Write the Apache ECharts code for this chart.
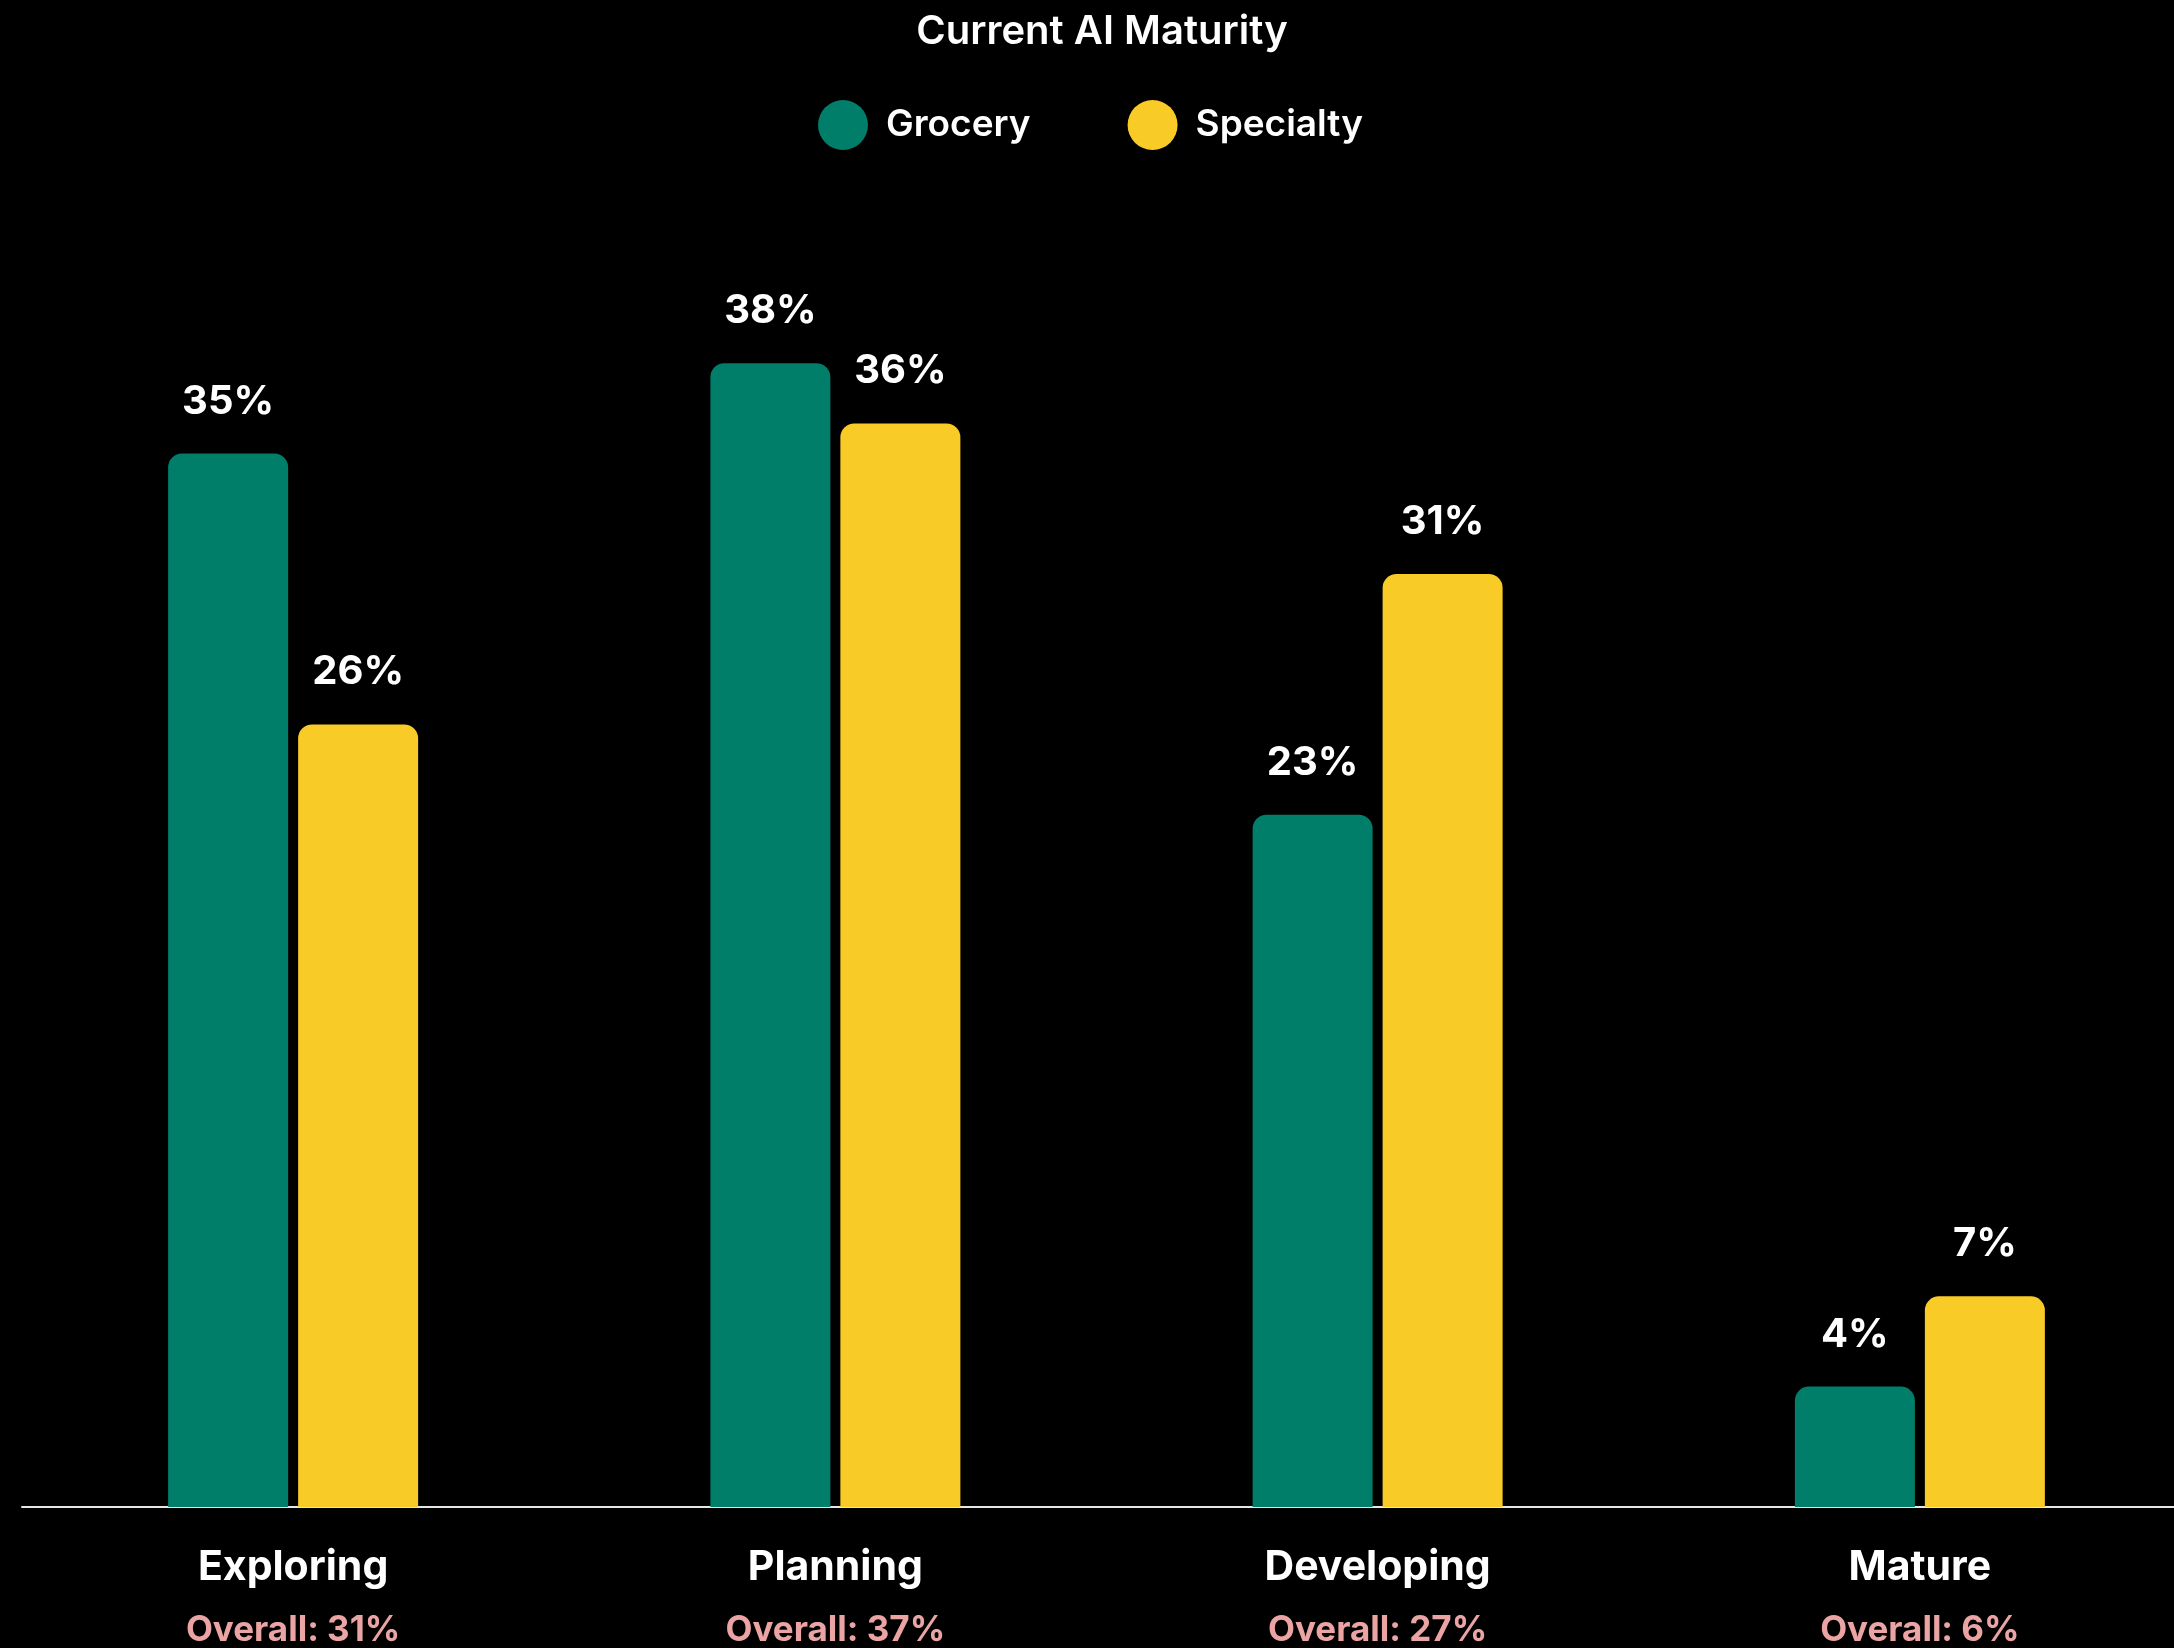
<!DOCTYPE html>
<html>
<head>
<meta charset="utf-8">
<title>Current AI Maturity</title>
<script src="https://cdn.jsdelivr.net/npm/echarts@6/dist/echarts.min.js"></script>
<style>
  html, body { margin: 0; padding: 0; background: #000; }
  #chart { width: 2174px; height: 1648px; }
</style>
</head>
<body>
<div id="chart"></div>
<script>
// Maturity stages and the share of each retailer group at that stage (%)
const stages = ['Exploring', 'Planning', 'Developing', 'Mature'];
const grocery = [35, 38, 23, 4];
const specialty = [26, 36, 31, 7];
const overall = [31, 37, 27, 6];

const FONT = 'Inter, "Noto Sans", sans-serif';
const TEAL = '#007E6A';
const YELLOW = '#F8CB27';

const valueLabel = {
  show: true,
  position: 'top',
  distance: 32,
  formatter: '{c}%',
  color: '#ffffff',
  fontFamily: FONT,
  fontWeight: 700,
  fontSize: 40
};

const chart = echarts.init(document.getElementById('chart'), null, { renderer: 'canvas' });

chart.setOption({
  backgroundColor: '#000000',
  animation: false,
  title: {
    text: 'Current AI Maturity',
    left: 1097,
    textAlign: 'center',
    top: 7,
    textStyle: { color: '#ffffff', fontFamily: FONT, fontWeight: 600, fontSize: 40 }
  },
  legend: {
    data: ['Grocery', 'Specialty'],
    left: 813,
    top: 95,
    icon: 'circle',
    itemWidth: 50,
    itemHeight: 50,
    itemGap: 97,
    textStyle: { color: '#ffffff', fontFamily: FONT, fontWeight: 600, fontSize: 37, padding: [0, 0, 0, 13] }
  },
  grid: {
    left: 22,
    top: 303,
    width: 2169,
    height: 1204,
    containLabel: false,
    outerBoundsMode: 'none'
  },
  xAxis: {
    type: 'category',
    data: stages,
    axisLine: { show: true, lineStyle: { color: '#e6e6e6', width: 2 } },
    axisTick: { show: false },
    axisLabel: {
      margin: 30,
      formatter: function (value, idx) {
        return '{a|' + value + '}\n{b|Overall: ' + overall[idx] + '%}';
      },
      rich: {
        a: { color: '#ffffff', fontFamily: FONT, fontWeight: 700, fontSize: 41, lineHeight: 62 },
        b: { color: '#EBA4A4', fontFamily: FONT, fontWeight: 700, fontSize: 35, lineHeight: 62 }
      }
    }
  },
  yAxis: {
    type: 'value',
    min: 0,
    max: 40,
    show: false,
    splitLine: { show: false }
  },
  series: [
    {
      name: 'Grocery',
      type: 'bar',
      data: grocery,
      barWidth: 120,
      barGap: '8.33%',
      itemStyle: { color: TEAL, borderRadius: [14, 14, 0, 0] },
      label: valueLabel
    },
    {
      name: 'Specialty',
      type: 'bar',
      data: specialty,
      barWidth: 120,
      itemStyle: { color: YELLOW, borderRadius: [14, 14, 0, 0] },
      label: valueLabel
    }
  ]
});
</script>
</body>
</html>
